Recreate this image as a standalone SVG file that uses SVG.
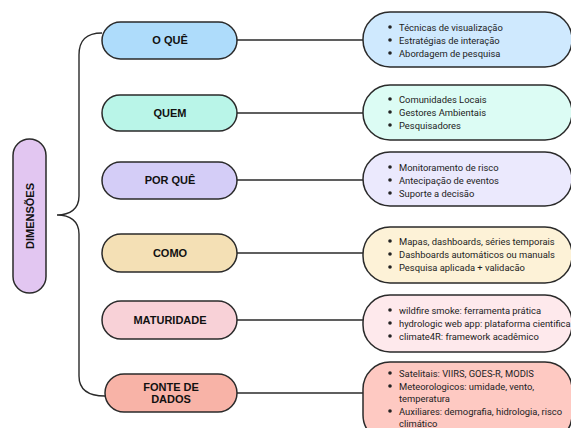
<svg xmlns="http://www.w3.org/2000/svg" width="571" height="428" viewBox="0 0 571 428">
<style>
.n{stroke:#2a2a2a;stroke-width:1.5}
.lbl{font-family:"Liberation Sans",Arial,sans-serif;font-weight:bold;font-size:11px;fill:#111;text-anchor:middle}
.t{font-family:Roboto,"Liberation Sans",sans-serif;font-size:9.4px;fill:#222}
.c{fill:none;stroke:#2a2a2a;stroke-width:1.4}
</style>
<rect width="571" height="428" fill="#fff"/>
<g id="connectors">
<path class="c" d="M102 33 C86 33 79 40 79 55 L79 196 C79 209 70 215 57 215 C70 215 79 221 79 234 L79 376 C79 390 88 396 105 396"/>
<line class="c" x1="237" y1="40" x2="363" y2="40"/>
<line class="c" x1="237" y1="113" x2="363" y2="113"/>
<line class="c" x1="237" y1="180" x2="363" y2="180"/>
<line class="c" x1="237" y1="253" x2="363" y2="253"/>
<line class="c" x1="237" y1="320" x2="363" y2="320"/>
<line class="c" x1="237" y1="393" x2="363" y2="393"/>
</g>
<g id="root">
<rect class="n" x="13" y="139" width="33" height="154" rx="16.5" fill="#e2c6f1"/>
<text class="lbl" transform="translate(34 216) rotate(-90)">DIMENSÕES</text>
</g>
<g id="oque">
<rect class="n" x="102" y="22" width="135" height="37" rx="18.5" fill="#aedcfb"/>
<text class="lbl" x="170" y="44">O QUÊ</text>
</g>
<g id="quem">
<rect class="n" x="102" y="95" width="135" height="36" rx="18" fill="#b9f5e8"/>
<text class="lbl" x="170" y="117">QUEM</text>
</g>
<g id="porque">
<rect class="n" x="102" y="162" width="135" height="37" rx="18.5" fill="#d4cdf7"/>
<text class="lbl" x="170" y="184">POR QUÊ</text>
</g>
<g id="como">
<rect class="n" x="102" y="234" width="135" height="38" rx="19" fill="#f4e0b5"/>
<text class="lbl" x="170" y="257">COMO</text>
</g>
<g id="maturidade">
<rect class="n" x="102" y="301" width="135" height="38" rx="19" fill="#f8d1d7"/>
<text class="lbl" x="170" y="324">MATURIDADE</text>
</g>
<g id="fonte">
<rect class="n" x="105" y="374" width="132" height="38" rx="19" fill="#f8b3a7"/>
<text class="lbl" x="171" y="391">FONTE DE</text>
<text class="lbl" x="171" y="403">DADOS</text>
</g>
<g id="oque-items">
<rect class="n" x="363" y="12" width="209" height="55" rx="27" fill="#cfe9fe"/>
<g class="t">
<circle cx="390" cy="27" r="1.8"/><text x="399" y="30.5">Técnicas de visualização</text>
<circle cx="390" cy="40" r="1.8"/><text x="399" y="43.5">Estratégias de interação</text>
<circle cx="390" cy="53" r="1.8"/><text x="399" y="56.5">Abordagem de pesquisa</text>
</g>
</g>
<g id="quem-items">
<rect class="n" x="363" y="85" width="209" height="55" rx="27" fill="#dcfcf4"/>
<g class="t">
<circle cx="390" cy="99" r="1.8"/><text x="399" y="102.5">Comunidades Locais</text>
<circle cx="390" cy="112" r="1.8"/><text x="399" y="115.5">Gestores Ambientais</text>
<circle cx="390" cy="125" r="1.8"/><text x="399" y="128.5">Pesquisadores</text>
</g>
</g>
<g id="porque-items">
<rect class="n" x="363" y="152" width="209" height="54" rx="27" fill="#ebe9fd"/>
<g class="t">
<circle cx="390" cy="167" r="1.8"/><text x="399" y="170.5">Monitoramento de risco</text>
<circle cx="390" cy="180" r="1.8"/><text x="399" y="183.5">Antecipação de eventos</text>
<circle cx="390" cy="193" r="1.8"/><text x="399" y="196.5">Suporte a decisão</text>
</g>
</g>
<g id="como-items">
<rect class="n" x="363" y="227" width="209" height="56" rx="27" fill="#fdf2d7"/>
<g class="t">
<circle cx="390" cy="241" r="1.8"/><text x="399" y="244.5">Mapas, dashboards, séries temporais</text>
<circle cx="390" cy="254" r="1.8"/><text x="399" y="257.5">Dashboards automáticos ou manuals</text>
<circle cx="390" cy="267" r="1.8"/><text x="399" y="270.5">Pesquisa aplicada + validacão</text>
</g>
</g>
<g id="maturidade-items">
<rect class="n" x="363" y="295" width="209" height="57" rx="27" fill="#fee9ec"/>
<g class="t">
<circle cx="390" cy="310" r="1.8"/><text x="399" y="313.5">wildfire smoke: ferramenta prática</text>
<circle cx="390" cy="323" r="1.8"/><text x="399" y="326.5">hydrologic web app: plataforma cientifica</text>
<circle cx="390" cy="336" r="1.8"/><text x="399" y="339.5">climate4R: framework acadêmico</text>
</g>
</g>
<g id="fonte-items">
<rect class="n" x="363" y="362" width="209" height="80" rx="27" fill="#fec9c2"/>
<g class="t">
<circle cx="390" cy="373" r="1.8"/><text x="399" y="376.5">Satelitais: VIIRS, GOES-R, MODIS</text>
<circle cx="390" cy="386" r="1.8"/><text x="399" y="389.5">Meteorologicos: umidade, vento,</text>
<text x="399" y="401.5">temperatura</text>
<circle cx="390" cy="411" r="1.8"/><text x="399" y="414.5">Auxiliares: demografia, hidrologia, risco</text>
<text x="399" y="426.5">climático</text>
</g>
</g>
</svg>
